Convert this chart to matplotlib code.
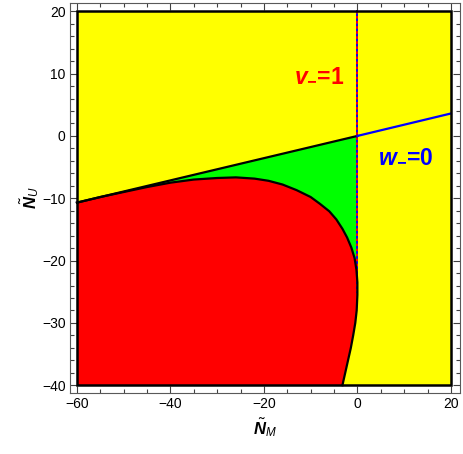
import matplotlib
matplotlib.use("Agg")
import matplotlib.pyplot as plt
from matplotlib.patches import Rectangle, Polygon
from matplotlib.ticker import MultipleLocator

plt.rcParams['font.family'] = ['Liberation Sans', 'DejaVu Sans']
plt.rcParams['mathtext.fontset'] = 'custom'
plt.rcParams['mathtext.rm'] = 'Liberation Sans'
plt.rcParams['mathtext.it'] = 'Liberation Sans:italic'
plt.rcParams['mathtext.bf'] = 'Liberation Sans:bold:italic'

# plot region
x_range = [-60, 20]
y_range = [-40, 20]

# boundary line (black part up to origin, blue part w_=0 beyond)
bound_x = [-60, 0]
bound_y = [-10.7, 0]
w_x = [0, 20]
w_y = [0, 3.6]

# v_=1 line at N_M = 0
v_x = [0, 0]
v_y = [20, -25]

# red region boundary curve
curve_x = [-60, -55, -50, -45, -40, -35, -30, -26, -22, -19, -16, -13, -10, -8, -6,
           -4.5, -3.2, -2.2, -1.3, -0.6, -0.2, 0, 0, -0.15, -0.45, -0.9, -1.4, -2.0, -2.6, -3.2]
curve_y = [-10.7, -9.8, -9.0, -8.2, -7.5, -7.0, -6.75, -6.65, -6.85, -7.2, -7.8, -8.7, -9.8, -10.9, -12.1,
           -13.4, -14.9, -16.3, -17.9, -19.6, -21.5, -23.5, -25.5, -28, -30, -32, -34, -36, -38, -40]

fig = plt.figure(figsize=(4.63, 4.54), dpi=100)
ax = fig.add_axes([0.151, 0.135, 0.842, 0.858])

# yellow background
ax.add_patch(Rectangle((x_range[0], y_range[0]), x_range[1] - x_range[0], y_range[1] - y_range[0],
                       facecolor='#ffff00', edgecolor='none', zorder=1))

# green region: between line, N_M=0 and curve
touch = curve_y.index(-23.5)
green = list(zip(bound_x, bound_y)) + [(0, -23.5)] + list(zip(curve_x[:touch + 1], curve_y[:touch + 1]))[::-1]
ax.add_patch(Polygon(green, closed=True, facecolor='#00ff00', edgecolor='none', zorder=2))

# red region
red = list(zip(curve_x, curve_y)) + [(-60, -40)]
ax.add_patch(Polygon(red, closed=True, facecolor='#ff0000', edgecolor='none', zorder=3))

ax.plot(v_x, v_y, color='blue', lw=1.4, zorder=4)
ax.plot(v_x, v_y, color='red', lw=1.4, dashes=(1.3, 1.3), zorder=5)
ax.plot(curve_x, curve_y, color='black', lw=1.6, zorder=6, solid_joinstyle='round')
ax.plot(bound_x, bound_y, color='black', lw=1.6, zorder=6)
ax.plot(w_x, w_y, color='blue', lw=1.6, zorder=6)

ax.add_patch(Rectangle((x_range[0], y_range[0]), x_range[1] - x_range[0], y_range[1] - y_range[0],
                       facecolor='none', edgecolor='black', lw=1.8, zorder=7))

ax.text(-8.1, 9.9, r'$\mathbf{v_{-}}$=1', color='red', fontsize=16.5, fontweight='bold',
        ha='center', va='center', zorder=8)
ax.text(10.2, -3.1, r'$\mathbf{w_{-}}$=0', color='blue', fontsize=16.5, fontweight='bold',
        ha='center', va='center', zorder=8)

ax.set_xlim(-61.5, 21.9)
ax.set_ylim(-41.2, 21.3)
ax.xaxis.set_major_locator(MultipleLocator(20))
ax.xaxis.set_minor_locator(MultipleLocator(5))
ax.yaxis.set_major_locator(MultipleLocator(10))
ax.yaxis.set_minor_locator(MultipleLocator(2))
ax.tick_params(which='both', direction='in', top=True, right=True, labelsize=10,
               color='0.25', width=0.8, pad=3)
ax.tick_params(which='major', length=5)
ax.tick_params(which='minor', length=3)
ax.tick_params(labeltop=False, labelright=False)
for s in ax.spines.values():
    s.set_color('0.35')
    s.set_linewidth(0.8)

ax.set_xlabel(r'$\tilde{\mathbf{N}}_{M}$', fontsize=12, labelpad=4)
ax.set_ylabel(r'$\tilde{\mathbf{N}}_{U}$', fontsize=12, labelpad=1)

fig.savefig('out.png', dpi=100)
